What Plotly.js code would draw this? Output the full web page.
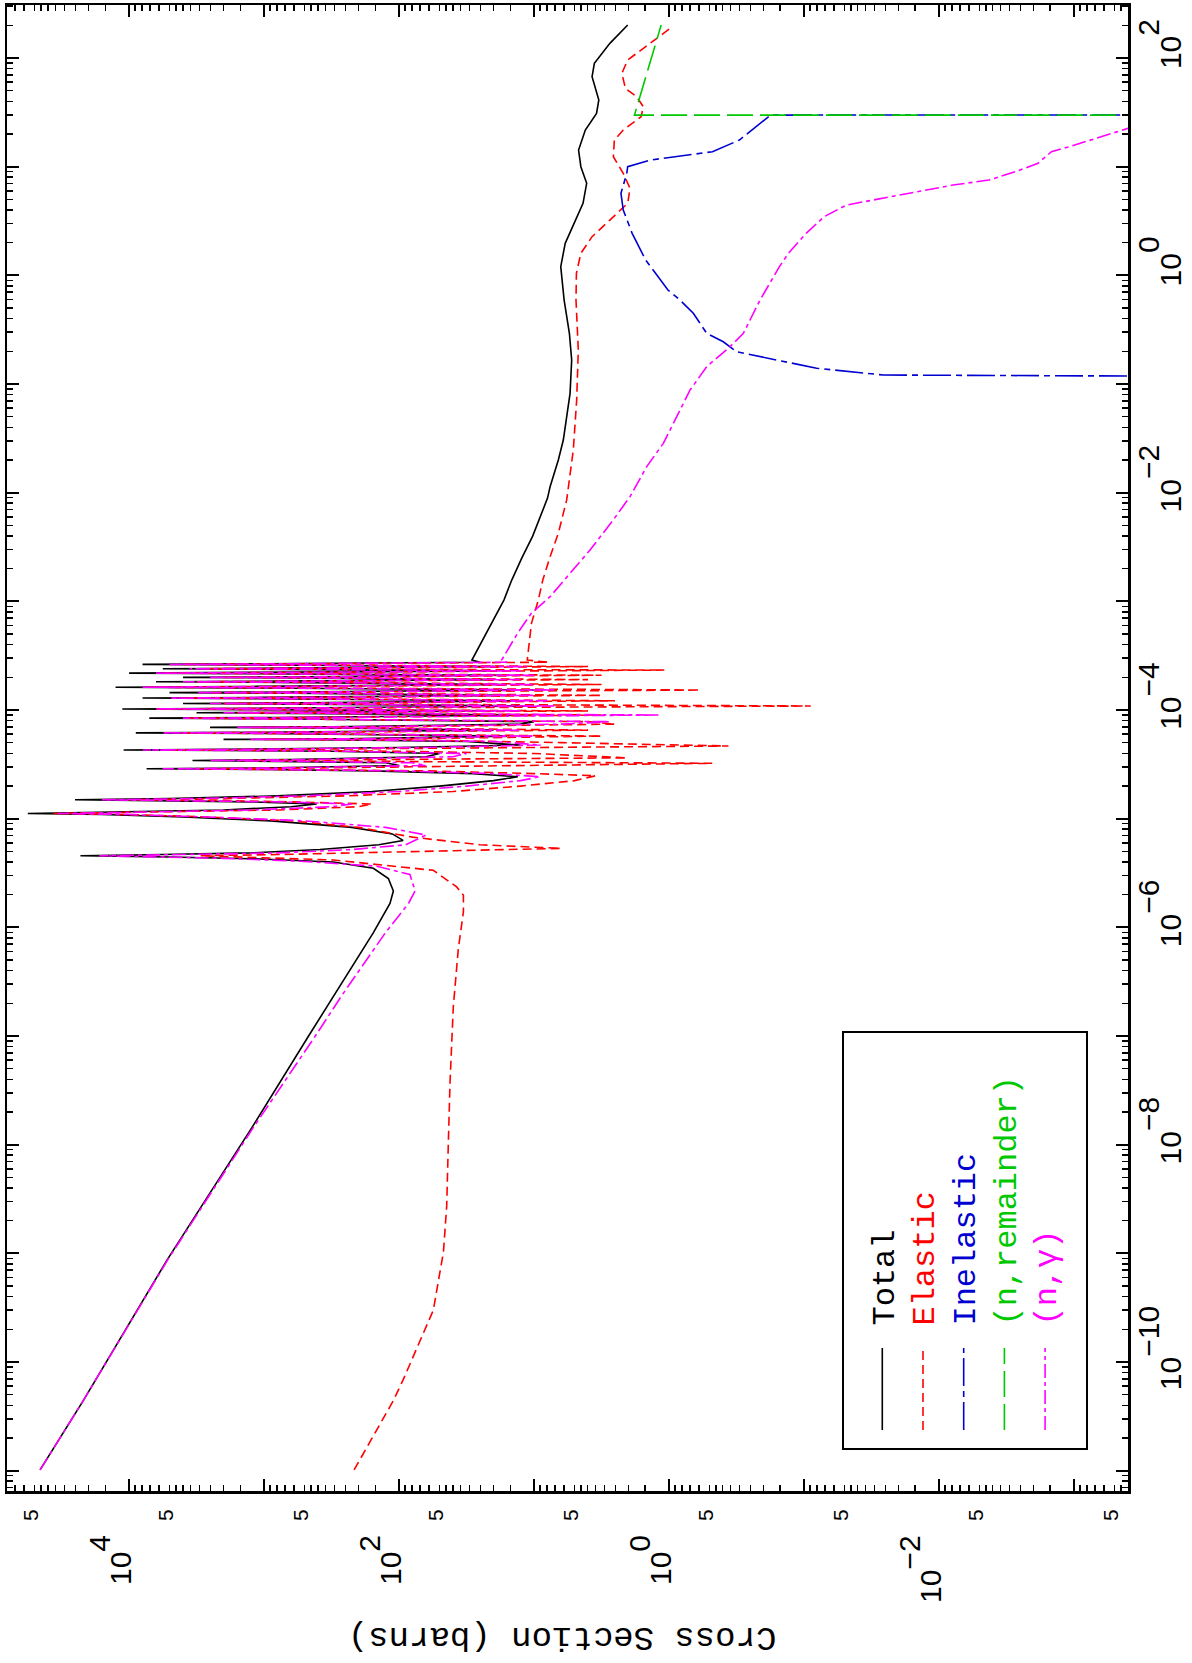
<!DOCTYPE html>
<html>
<head>
<meta charset="utf-8">
<script src="https://cdn.plot.ly/plotly-3.0.1.min.js"></script>
<style>
html,body{margin:0;padding:0;background:#fff;overflow:hidden;width:1192px;height:1663px;}
#wrap{position:absolute;left:0;top:0;width:1663px;height:1192px;transform-origin:0 0;transform:translate(0px,1663px) rotate(-90deg);}
#chart{width:1663px;height:1192px;}
</style>
</head>
<body>
<div id="wrap"><div id="chart"></div></div>
<script>
// ---- data: [log10(Energy / MeV), log10(cross section / barns)] ----
const totalPts = [[-10.993,4.659],[-10.355,4.339],[-9.065,3.72],[-7.843,3.09],[-7.0,2.67],[-6.62,2.48],[-6.048,2.19],[-5.78,2.067],[-5.665,2.042],[-5.551,2.079],[-5.456,2.19],[-5.398,2.487],[-5.368,3.1],[-5.352,3.7],[-5.341,4.36],[-5.33,3.75],[-5.315,3.1],[-5.284,2.585],[-5.24,2.15],[-5.20,1.97],[-5.14,2.05],[-5.08,2.35],[-5.02,2.95],[-4.985,3.6],[-4.962,4.2],[-4.952,4.75],[-4.942,4.2],[-4.92,3.3],[-4.89,2.8],[-4.865,2.61],[-4.845,3.1],[-4.834,3.7],[-4.826,4.40],[-4.815,3.7],[-4.79,2.9],[-4.75,2.2],[-4.70,1.7],[-4.65,1.3],[-4.614,1.12],[-4.585,1.45],[-4.56,2.2],[-4.548,3.0],[-4.541,3.87],[-4.533,3.0],[-4.51,2.0],[-4.485,2.1],[-4.472,2.8],[-4.464,3.53],[-4.456,2.8],[-4.43,1.8],[-4.40,1.7],[-4.38,2.5],[-4.372,3.3],[-4.368,4.04],[-4.362,3.3],[-4.345,2.0],[-4.322,1.10],[-4.29,1.5],[-4.276,2.4],[-4.27,3.3],[-4.264,2.4],[-4.24,1.2],[-4.216,3.0],[-4.21,3.95],[-4.204,3.0],[-4.185,1.3],[-4.166,2.5],[-4.16,3.4],[-4.154,2.5],[-4.13,1.1],[-4.107,1.0],[-4.081,2.9],[-4.075,3.85],[-4.069,2.9],[-4.046,1.0],[-4.031,2.6],[-4.025,3.5],[-4.019,2.6],[-4.008,1.3],[-3.996,3.1],[-3.99,4.05],[-3.984,3.1],[-3.963,1.0],[-3.946,2.7],[-3.94,3.6],[-3.934,2.7],[-3.915,1.1],[-3.896,3.0],[-3.89,3.9],[-3.884,3.0],[-3.865,1.2],[-3.846,2.8],[-3.84,3.7],[-3.834,2.8],[-3.815,1.0],[-3.796,3.2],[-3.79,4.1],[-3.784,3.2],[-3.765,1.2],[-3.746,2.9],[-3.74,3.8],[-3.734,2.9],[-3.72,1.3],[-3.706,2.7],[-3.70,3.6],[-3.694,2.7],[-3.68,1.2],[-3.666,3.1],[-3.66,4.0],[-3.654,3.1],[-3.64,1.3],[-3.626,2.85],[-3.62,3.75],[-3.614,2.85],[-3.60,1.25],[-3.586,3.0],[-3.58,3.9],[-3.574,3.0],[-3.56,1.4],[-3.54,1.46],[-3.233,1.326],[-2.988,1.223],[-2.804,1.165],[-2.6,1.09],[-2.4,1.01],[-2.2,0.95],[-2.05,0.90],[-1.945,0.881],[-1.853,0.857],[-1.699,0.820],[-1.515,0.783],[-1.301,0.758],[-1.086,0.733],[-0.779,0.721],[-0.533,0.738],[-0.227,0.777],[0.080,0.802],[0.295,0.769],[0.479,0.702],[0.663,0.637],[0.847,0.610],[1.0,0.653],[1.153,0.670],[1.337,0.620],[1.491,0.537],[1.614,0.520],[1.828,0.570],[1.951,0.553],[2.135,0.438],[2.304,0.306]];

const elasticPts = [[-10.993,2.333],[-10.355,2.042],[-10.165,1.97],[-9.943,1.894],[-9.523,1.746],[-8.988,1.671],[-8.568,1.647],[-7.996,1.635],[-7.423,1.622],[-6.733,1.598],[-6.201,1.561],[-5.857,1.523],[-5.704,1.523],[-5.628,1.573],[-5.475,1.746],[-5.38,2.487],[-5.36,3.0],[-5.341,3.47],[-5.33,2.9],[-5.31,2.2],[-5.29,1.4],[-5.273,0.80],[-5.24,1.4],[-5.17,1.9],[-5.08,2.3],[-5.02,2.8],[-4.985,3.4],[-4.962,4.0],[-4.952,4.56],[-4.942,3.9],[-4.92,2.9],[-4.89,2.3],[-4.865,2.2],[-4.845,2.8],[-4.834,3.3],[-4.826,4.0],[-4.815,3.3],[-4.79,2.4],[-4.75,1.6],[-4.70,1.1],[-4.65,0.7],[-4.605,0.544],[-4.585,1.0],[-4.56,1.8],[-4.548,2.7],[-4.541,3.5],[-4.533,2.6],[-4.51,1.0],[-4.49,-0.32],[-4.475,1.8],[-4.464,3.2],[-4.456,2.2],[-4.44,0.31],[-4.40,1.0],[-4.38,2.0],[-4.372,2.9],[-4.368,3.7],[-4.362,2.8],[-4.345,1.2],[-4.331,-0.44],[-4.30,0.8],[-4.276,1.9],[-4.27,3.0],[-4.264,1.9],[-4.24,0.5],[-4.216,2.6],[-4.21,3.6],[-4.204,2.6],[-4.185,0.6],[-4.166,2.1],[-4.16,3.1],[-4.154,2.1],[-4.13,0.4],[-4.107,0.6],[-4.081,2.6],[-4.075,3.55],[-4.069,2.6],[-4.046,0.5],[-4.031,2.3],[-4.025,3.2],[-4.019,2.3],[-4.008,0.6],[-3.996,2.8],[-3.99,3.8],[-3.984,2.8],[-3.963,-1.05],[-3.946,2.3],[-3.94,3.3],[-3.934,2.3],[-3.915,0.4],[-3.896,2.6],[-3.89,3.6],[-3.884,2.6],[-3.865,0.5],[-3.846,2.4],[-3.84,3.4],[-3.834,2.4],[-3.816,-0.23],[-3.796,2.8],[-3.79,3.85],[-3.784,2.8],[-3.765,0.5],[-3.746,2.5],[-3.74,3.5],[-3.734,2.5],[-3.72,0.6],[-3.706,2.3],[-3.70,3.3],[-3.694,2.3],[-3.68,0.5],[-3.666,2.7],[-3.66,3.75],[-3.654,2.7],[-3.632,0.035],[-3.626,2.4],[-3.62,3.45],[-3.614,2.4],[-3.60,0.6],[-3.586,2.6],[-3.58,3.6],[-3.574,2.6],[-3.56,0.9],[-3.54,1.05],[-3.202,1.019],[-2.988,0.968],[-2.804,0.935],[-2.589,0.881],[-2.374,0.820],[-2.067,0.758],[-1.607,0.709],[-1.147,0.684],[-0.687,0.672],[-0.227,0.689],[0.019,0.686],[0.203,0.653],[0.356,0.570],[0.509,0.438],[0.663,0.306],[0.801,0.289],[0.939,0.339],[1.092,0.412],[1.245,0.405],[1.337,0.339],[1.460,0.207],[1.552,0.190],[1.644,0.240],[1.721,0.323],[1.859,0.349],[1.982,0.306],[2.074,0.207],[2.181,0.092],[2.288,-0.025]];

const inelasticPts = [[-0.94,-6],[-0.917,-1.587],[-0.855,-1.094],[-0.763,-0.724],[-0.703,-0.501],[-0.611,-0.402],[-0.533,-0.279],[-0.349,-0.180],[-0.227,-0.081],[-0.135,0.008],[0.141,0.173],[0.387,0.273],[0.601,0.339],[0.755,0.356],[0.939,0.313],[1.0,0.306],[1.061,0.141],[1.138,-0.322],[1.245,-0.521],[1.475,-0.752],[1.476,-6]];

const remainderPts = [[1.474,-6],[1.475,0.256],[2.304,0.058]];

const captPts = [[-10.993,4.659],[-10.355,4.339],[-9.065,3.716],[-7.843,3.08],[-7.0,2.62],[-6.62,2.42],[-6.048,2.10],[-5.78,1.93],[-5.665,1.881],[-5.514,1.919],[-5.437,2.165],[-5.391,2.733],[-5.365,3.3],[-5.352,3.75],[-5.341,4.22],[-5.33,3.6],[-5.315,2.9],[-5.284,2.35],[-5.24,1.95],[-5.15,1.80],[-5.08,2.1],[-5.02,2.7],[-4.985,3.4],[-4.962,4.0],[-4.952,4.53],[-4.942,4.0],[-4.92,3.1],[-4.89,2.5],[-4.865,2.35],[-4.845,2.9],[-4.834,3.5],[-4.826,4.20],[-4.815,3.5],[-4.79,2.7],[-4.75,2.0],[-4.70,1.5],[-4.65,1.1],[-4.614,0.955],[-4.585,1.3],[-4.56,2.0],[-4.548,2.9],[-4.541,3.75],[-4.533,2.9],[-4.51,1.8],[-4.485,1.9],[-4.472,2.7],[-4.464,3.4],[-4.456,2.7],[-4.43,1.6],[-4.40,1.5],[-4.38,2.4],[-4.372,3.2],[-4.368,3.9],[-4.362,3.2],[-4.345,1.8],[-4.322,0.95],[-4.29,1.3],[-4.276,2.2],[-4.27,3.1],[-4.264,2.2],[-4.24,1.0],[-4.216,2.8],[-4.21,3.75],[-4.204,2.8],[-4.185,1.1],[-4.166,2.3],[-4.16,3.2],[-4.154,2.3],[-4.13,0.8],[-4.107,0.44],[-4.081,2.7],[-4.075,3.6],[-4.069,2.7],[-4.046,0.067],[-4.031,2.4],[-4.025,3.3],[-4.019,2.4],[-4.008,1.1],[-3.996,2.9],[-3.99,3.8],[-3.984,2.9],[-3.963,0.85],[-3.946,2.5],[-3.94,3.4],[-3.934,2.5],[-3.915,0.9],[-3.896,2.8],[-3.89,3.7],[-3.884,2.8],[-3.865,1.0],[-3.846,2.6],[-3.84,3.5],[-3.834,2.6],[-3.815,0.85],[-3.796,3.0],[-3.79,3.9],[-3.784,3.0],[-3.765,1.0],[-3.746,2.7],[-3.74,3.6],[-3.734,2.7],[-3.72,1.1],[-3.706,2.5],[-3.70,3.4],[-3.694,2.5],[-3.68,1.0],[-3.666,2.9],[-3.66,3.8],[-3.654,2.9],[-3.64,1.1],[-3.626,2.6],[-3.62,3.55],[-3.614,2.6],[-3.60,1.05],[-3.586,2.8],[-3.58,3.7],[-3.574,2.8],[-3.56,1.2],[-3.54,1.24],[-3.294,1.122],[-3.11,1.02],[-2.957,0.881],[-2.742,0.733],[-2.527,0.585],[-2.251,0.413],[-2.036,0.289],[-1.760,0.165],[-1.546,0.042],[-1.301,-0.057],[-1.055,-0.156],[-0.840,-0.279],[-0.657,-0.452],[-0.533,-0.551],[-0.227,-0.674],[0.080,-0.818],[0.203,-0.884],[0.387,-1.016],[0.540,-1.149],[0.647,-1.314],[0.724,-1.644],[0.831,-2.104],[0.877,-2.369],[0.954,-2.567],[1.031,-2.733],[1.138,-2.833],[1.184,-2.965],[1.276,-3.193],[1.353,-3.40]];

// ---- series names / legend labels ----
const seriesNames = ['Total','Elastic','Inelastic','(n,remainder)','(n,\u03b3)'];
const seriesColors = ['#000000','#ff0000','#0000d0','#00c800','#ff00ff'];

// ---- tick labels ----
const supOpen = '<sup><sup><span style="font-size:30px">';
const supClose = '</span></sup></sup>';
const energyTickVals = [1e-11,1e-10,1e-9,1e-8,1e-7,1e-6,1e-5,1e-4,1e-3,1e-2,1e-1,1,1e1,1e2];
const energyTickExp = ['','\u221210','','\u22128','','\u22126','','\u22124','','\u22122','','0','','2'];
const xsDecadeVals = [1e-3,1e-2,1e-1,1,1e1,1e2,1e3,1e4];
const xsLabelExp = [-2,0,2,4];
const xsLabelText = ['\u22122','0','2','4'];
const xsFiveVals = [5e-4,5e-3,5e-2,5e-1,5,5e1,5e2,5e3,5e4];
const xsFiveText = ['5','5','5','5','5','5','5','5','5'];

const energyTickText = energyTickExp.map(e => e === '' ? '' : '10' + supOpen + e + supClose);

// minor tick positions (axis decoration)
const energyMinor = [];
for (let n = -12; n <= 2; n++) for (let k = 2; k <= 9; k++) energyMinor.push(k * Math.pow(10, n));
const xsMinor = [];
for (let n = -4; n <= 4; n++) [1.5,2,2.5,3,3.5,4,4.5,5,6,7,8,9].forEach(k => xsMinor.push(k * Math.pow(10, n)));

const toX = pts => pts.map(p => Math.pow(10, p[0]));
const toY = pts => pts.map(p => Math.pow(10, p[1]));

const allPts = [totalPts, elasticPts, inelasticPts, remainderPts, captPts];
const dashes = ['solid','9px,5px','28px,5px,6px,5px','26px,7px','14px,4px,4px,4px'];

const traces = allPts.map((pts, i) => ({
  type: 'scatter', mode: 'lines',
  x: toX(pts), y: toY(pts),
  name: '\u00a0<span style="color:' + seriesColors[i] + ';font-size:32px">' + seriesNames[i] + '</span>',
  line: {color: seriesColors[i], width: 1.6, dash: dashes[i]},
  hoverinfo: 'skip'
}));

const sansFamily = 'Liberation Sans, Arial, Helvetica, sans-serif';
const tickFont = {family: sansFamily, size: 30, color: '#000'};
const monoFont = 'Liberation Mono, Courier New, monospace';
const yRange = [-3.40, 4.904];

// y-axis labels placed on the y scale (log units) as annotations
const yLabelAnnots = xsLabelExp.map((e, i) => ({
  text: '10' + supOpen + xsLabelText[i] + supClose,
  xref: 'paper', yref: 'y', x: -0.02826, y: e,
  xanchor: 'right', yanchor: 'middle', yshift: 19,
  showarrow: false, font: tickFont
}));
const fiveAnnots = xsFiveVals.map((v, i) => ({
  text: xsFiveText[i], xref: 'paper', yref: 'y', x: -0.01077, y: Math.log10(v),
  xanchor: 'right', yanchor: 'middle', yshift: 4,
  showarrow: false, font: {family: sansFamily, size: 21, color: '#000'}
}));

const layout = {
  width: 1663, height: 1192,
  margin: {l: 172, r: 5, t: 7, b: 64, pad: 0},
  paper_bgcolor: '#ffffff', plot_bgcolor: '#ffffff',
  showlegend: true,
  xaxis: {
    type: 'log', range: [-11.187, 2.488], autorange: false,
    showline: true, linewidth: 2.5, linecolor: '#000', mirror: 'ticks',
    ticks: 'inside', ticklen: 12, tickwidth: 2, tickcolor: '#000',
    tickmode: 'array', tickvals: energyTickVals, ticktext: energyTickText,
    tickfont: tickFont, ticklabelstandoff: 14, ticklabelshift: 14,
    showgrid: false, zeroline: false,
    minor: {tickmode: 'array', tickvals: energyMinor, ticks: 'inside', ticklen: 6, tickwidth: 1.5, tickcolor: '#000', showgrid: false}
  },
  yaxis: {
    type: 'log', range: yRange, autorange: false,
    showline: true, linewidth: 2.5, linecolor: '#000', mirror: 'ticks',
    ticks: 'inside', ticklen: 12, tickwidth: 2, tickcolor: '#000',
    tickmode: 'array', tickvals: xsDecadeVals, ticktext: xsDecadeVals.map(() => ''),
    showticklabels: false,
    showgrid: false, zeroline: false,
    minor: {tickmode: 'array', tickvals: xsMinor, ticks: 'inside', ticklen: 6, tickwidth: 1.5, tickcolor: '#000', showgrid: false}
  },
  legend: {
    x: 0.0377, y: 0.2418, xanchor: 'left', yanchor: 'top',
    bgcolor: 'rgba(0,0,0,0)', borderwidth: 0,
    font: {family: monoFont, size: 29, color: '#000'},
    itemwidth: 82, tracegroupgap: 0, traceorder: 'normal'
  },
  shapes: [{
    type: 'rect', xref: 'paper', yref: 'paper',
    x0: 0.02826, x1: 0.30888, y0: 0.03657, y1: 0.25424,
    line: {color: '#000', width: 2}, fillcolor: 'rgba(0,0,0,0)'
  }],
  annotations: [{
    text: 'Cross Section (barns)', xref: 'paper', yref: 'paper',
    x: -0.0986, y: 0.505, xanchor: 'center', yanchor: 'middle',
    textangle: -90, showarrow: false,
    font: {family: monoFont, size: 34, color: '#000'}
  }].concat(yLabelAnnots, fiveAnnots)
};

Plotly.newPlot('chart', traces, layout, {displayModeBar: false, staticPlot: true});
</script>
</body>
</html>
